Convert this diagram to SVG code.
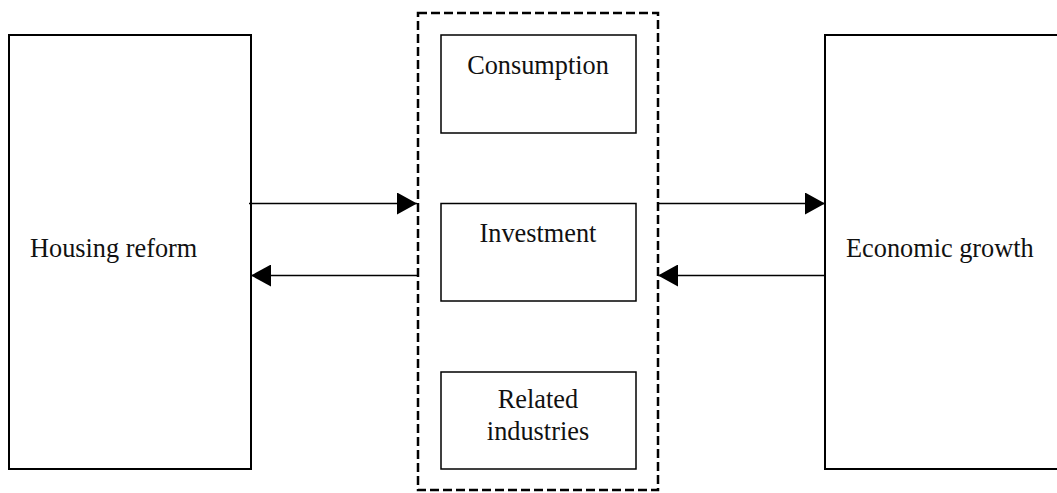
<svg xmlns="http://www.w3.org/2000/svg" width="1057" height="493" viewBox="0 0 1057 493">
  <style>
    .box { fill: #ffffff; stroke: #000000; stroke-width: 2; }
    .inner { fill: #ffffff; stroke: #000000; stroke-width: 1.5; }
    .group { fill: none; stroke: #000000; stroke-width: 2.5; stroke-dasharray: 9 4; }
    .link { stroke: #000000; stroke-width: 1.5; fill: none; }
    text { font-family: "Liberation Serif", "Times New Roman", serif; font-size: 26.3px; fill: #111111; }
  </style>
  <defs>
    <marker id="head" markerUnits="userSpaceOnUse" markerWidth="20" markerHeight="22" refX="20" refY="11" orient="auto">
      <polygon points="0,0 20,11 0,22" fill="#000000"/>
    </marker>
  </defs>
  <rect width="1057" height="493" fill="#ffffff"/>

  <!-- left node -->
  <g id="housing-reform">
    <rect class="box" x="9" y="35" width="242" height="434"/>
    <text x="30" y="257">Housing reform</text>
  </g>

  <!-- right node, runs off the right edge -->
  <g id="economic-growth">
    <path class="box" d="M1060,35 H825 V469 H1060"/>
    <text x="846" y="257">Economic growth</text>
  </g>

  <!-- dashed group of channels -->
  <g id="channels">
    <rect class="group" x="418" y="13" width="240" height="477"/>
  </g>

  <g id="consumption">
    <rect class="inner" x="441" y="35" width="195" height="98"/>
    <text x="538" y="74" text-anchor="middle">Consumption</text>
  </g>

  <g id="investment">
    <rect class="inner" x="441" y="203.5" width="195" height="97.5"/>
    <text x="538" y="242" text-anchor="middle">Investment</text>
  </g>

  <g id="related-industries">
    <rect class="inner" x="441" y="372" width="195" height="97"/>
    <text x="538" y="408" text-anchor="middle">Related</text>
    <text x="538" y="440" text-anchor="middle">industries</text>
  </g>

  <!-- connectors -->
  <g id="connectors">
    <line class="link" x1="249" y1="203.5" x2="417" y2="203.5" marker-end="url(#head)"/>
    <line class="link" x1="418" y1="275.5" x2="251" y2="275.5" marker-end="url(#head)"/>
    <line class="link" x1="657" y1="203.5" x2="825" y2="203.5" marker-end="url(#head)"/>
    <line class="link" x1="825" y1="275.5" x2="658" y2="275.5" marker-end="url(#head)"/>
  </g>
</svg>
